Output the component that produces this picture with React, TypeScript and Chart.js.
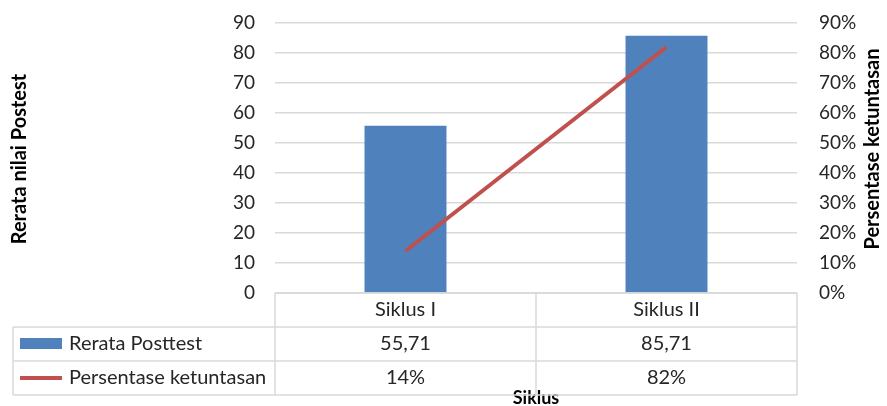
import React, { useEffect, useRef } from 'react';
import { Chart, registerables } from 'chart.js';

Chart.register(...registerables);

const categories = ['Siklus I', 'Siklus II'];
const rerataPosttest = [55.71, 85.71];
const persentaseKetuntasan = [14, 82];
const seriesNames = ['Rerata Posttest', 'Persentase ketuntasan'];
const leftAxisTitle = 'Rerata nilai Postest';
const rightAxisTitle = 'Persentase ketuntasan';
const xAxisTitle = 'Siklus';

const FONT = 'Lato, "Liberation Sans", sans-serif';
const BLUE = '#4F81BD';
const RED = '#C0504D';
const GRID = '#D9D9D9';
const TEXT = '#262626';

const fmtNum = (v: number) => v.toFixed(2).replace('.', ',');
const fmtPct = (v: number) => `${Math.round(v)}%`;

const tablePlugin = {
  id: 'dataTable',
  afterDraw(chart: any) {
    const ctx = chart.ctx as CanvasRenderingContext2D;
    const { left, right, bottom } = chart.chartArea;
    const xs = chart.scales.x;
    const rowH = 34;
    const tableLeft = 13;
    const r1 = bottom + rowH;
    const r2 = r1 + rowH;
    const r3 = r2 + rowH;
    const centers = categories.map((_, i) => xs.getPixelForValue(i));
    const dividers: number[] = [];
    for (let i = 0; i < centers.length - 1; i++) dividers.push((centers[i] + centers[i + 1]) / 2);

    ctx.save();
    ctx.fillStyle = '#000';
    ctx.font = `bold 18px ${FONT}`;
    ctx.textAlign = 'center';
    ctx.textBaseline = 'alphabetic';
    ctx.fillText(xAxisTitle, (left + right) / 2, 404);

    ctx.strokeStyle = GRID;
    ctx.lineWidth = 1.5;
    ctx.beginPath();
    ctx.moveTo(left, bottom); ctx.lineTo(right, bottom);
    [r1, r2, r3].forEach((y) => { ctx.moveTo(tableLeft, y); ctx.lineTo(right, y); });
    ctx.moveTo(tableLeft, r1); ctx.lineTo(tableLeft, r3);
    [left, ...dividers, right].forEach((x) => { ctx.moveTo(x, bottom); ctx.lineTo(x, r3); });
    ctx.stroke();

    ctx.fillStyle = TEXT;
    ctx.font = `20px ${FONT}`;
    ctx.textAlign = 'center';
    ctx.textBaseline = 'middle';
    categories.forEach((c, i) => {
      ctx.fillText(c, centers[i], (bottom + r1) / 2);
      ctx.fillText(fmtNum(rerataPosttest[i]), centers[i], (r1 + r2) / 2);
      ctx.fillText(fmtPct(persentaseKetuntasan[i]), centers[i], (r2 + r3) / 2);
    });
    ctx.textAlign = 'left';
    ctx.fillText(seriesNames[0], 69, (r1 + r2) / 2);
    ctx.fillText(seriesNames[1], 69, (r2 + r3) / 2);

    ctx.fillStyle = BLUE;
    ctx.fillRect(20, (r1 + r2) / 2 - 6, 42, 11);
    ctx.strokeStyle = RED;
    ctx.lineWidth = 4;
    ctx.beginPath();
    ctx.moveTo(20, (r2 + r3) / 2);
    ctx.lineTo(62, (r2 + r3) / 2);
    ctx.stroke();

    ctx.fillStyle = '#000';
    ctx.font = `bold 20px ${FONT}`;
    ctx.textAlign = 'center';
    ctx.textBaseline = 'middle';
    ctx.save();
    ctx.translate(20, 159);
    ctx.rotate(-Math.PI / 2);
    ctx.fillText(leftAxisTitle, 0, 0);
    ctx.restore();
    ctx.save();
    ctx.translate(873, 149);
    ctx.rotate(-Math.PI / 2);
    ctx.fillText(rightAxisTitle, 0, 0);
    ctx.restore();
    ctx.restore();
  },
};

export default function App() {
  const ref = useRef<HTMLCanvasElement | null>(null);
  useEffect(() => {
    if (!ref.current) return;
    const chart = new Chart(ref.current, {
      type: 'bar',
      data: {
        labels: categories,
        datasets: [
          {
            type: 'line',
            label: seriesNames[1],
            data: persentaseKetuntasan,
            yAxisID: 'y1',
            borderColor: RED,
            backgroundColor: RED,
            borderWidth: 4,
            pointRadius: 0,
            tension: 0,
            order: 0,
          } as any,
          {
            type: 'bar',
            label: seriesNames[0],
            data: rerataPosttest,
            yAxisID: 'y',
            backgroundColor: BLUE,
            borderWidth: 0,
            barPercentage: 0.314,
            categoryPercentage: 1,
            order: 1,
          },
        ],
      },
      options: {
        animation: false,
        responsive: true,
        maintainAspectRatio: false,
        layout: { padding: { top: 23, bottom: 113, left: 0, right: 0 } },
        plugins: { legend: { display: false }, tooltip: { enabled: false }, title: { display: false } },
        scales: {
          x: { display: false, offset: true },
          y: {
            position: 'left',
            min: 0,
            max: 90,
            ticks: { stepSize: 10, padding: 20, color: TEXT, font: { family: FONT, size: 19 } },
            grid: { color: GRID, lineWidth: 1.5, drawTicks: false },
            border: { display: false },
            afterFit: (s: any) => { s.width = 275; s.paddingTop = 10; s.paddingBottom = 10; },
          },
          y1: {
            position: 'right',
            min: 0,
            max: 90,
            ticks: { stepSize: 10, padding: 22, color: TEXT, font: { family: FONT, size: 19 }, callback: (v: any) => `${v}%` },
            grid: { display: false, drawTicks: false },
            border: { display: false },
            afterFit: (s: any) => { s.width = 90; s.paddingTop = 10; s.paddingBottom = 10; },
          },
        },
      },
      plugins: [tablePlugin],
    });
    return () => chart.destroy();
  }, []);
  return (
    <div style={{ position: 'fixed', left: 0, top: 0, width: 887, height: 406, background: '#fff' }}>
      <canvas ref={ref} />
    </div>
  );
}
